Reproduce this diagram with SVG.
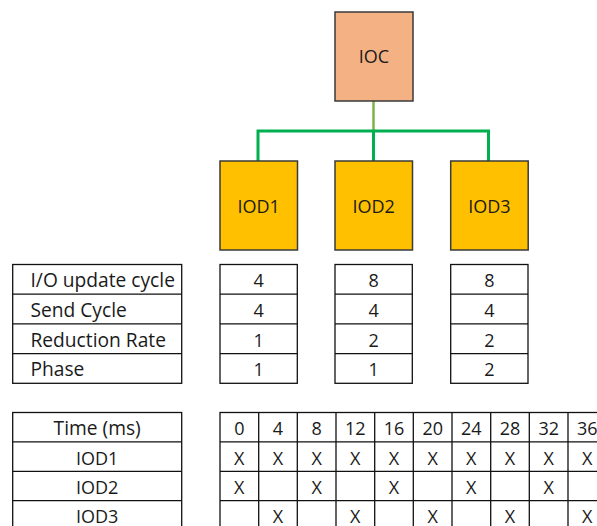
<svg xmlns="http://www.w3.org/2000/svg" width="597" height="526" viewBox="0 0 597 526">
  <style>
    .box { stroke: #3a3a3a; stroke-width: 1.5; }
    .ioc { fill: #F4B183; }
    .iod { fill: #FFC000; }
    .lbl { font-family: "Open Sans", "Noto Sans", "Liberation Sans", sans-serif; font-size: 18px; fill: #1a1a1a; }
    .wide { font-size: 19.2px; }
    .c { text-anchor: middle; }
    .cell { fill: #ffffff; stroke: #111111; stroke-width: 1.3; }
    .grid { stroke: #111111; stroke-width: 1.3; fill: none; }
    .bus { stroke: #00B050; stroke-width: 3; fill: none; }
    .up { stroke: #7DB24A; stroke-width: 2.5; fill: none; }
  </style>

  <rect width="597" height="526" fill="#ffffff"/>

  <!-- connectors: controller down to the bus, bus to each device -->
  <g id="connectors">
    <line class="up" x1="373.5" y1="101" x2="373.5" y2="131"/>
    <polyline class="bus" points="258,161 258,131 488.5,131 488.5,161"/>
    <line class="bus" x1="373.5" y1="131" x2="373.5" y2="161"/>
  </g>

  <g id="ioc">
    <rect class="box ioc" x="335" y="12" width="78" height="89"/>
    <text class="lbl c" x="374" y="63">IOC</text>
  </g>
  <g id="iod1">
    <rect class="box iod" x="220" y="161" width="77.5" height="89"/>
    <text class="lbl c" x="258.7" y="212.5">IOD1</text>
  </g>
  <g id="iod2">
    <rect class="box iod" x="335" y="161" width="77.5" height="89"/>
    <text class="lbl c" x="373.7" y="212.5">IOD2</text>
  </g>
  <g id="iod3">
    <rect class="box iod" x="450.7" y="161" width="77.5" height="89"/>
    <text class="lbl c" x="489.4" y="212.5">IOD3</text>
  </g>

  <!-- parameter table -->
  <g id="param-labels">
    <rect class="cell" x="12.7" y="264.5" width="169" height="118.8"/>
    <path class="grid" d="M12.7 294.2H181.7M12.7 323.9H181.7M12.7 353.6H181.7"/>
    <text class="lbl wide" x="30.5" y="287.3">I/O update cycle</text>
    <text class="lbl wide" x="30.5" y="317">Send Cycle</text>
    <text class="lbl wide" x="30.5" y="346.7">Reduction Rate</text>
    <text class="lbl wide" x="30.5" y="376.4">Phase</text>
  </g>
  <g id="param-iod1">
    <rect class="cell" x="220" y="264.5" width="77.3" height="118.8"/>
    <path class="grid" d="M220 294.2H297.3M220 323.9H297.3M220 353.6H297.3"/>
    <text class="lbl c" x="258.7" y="287.3">4</text>
    <text class="lbl c" x="258.7" y="317">4</text>
    <text class="lbl c" x="258.7" y="346.7">1</text>
    <text class="lbl c" x="258.7" y="376.4">1</text>
  </g>
  <g id="param-iod2">
    <rect class="cell" x="335" y="264.5" width="77.3" height="118.8"/>
    <path class="grid" d="M335 294.2H412.3M335 323.9H412.3M335 353.6H412.3"/>
    <text class="lbl c" x="373.7" y="287.3">8</text>
    <text class="lbl c" x="373.7" y="317">4</text>
    <text class="lbl c" x="373.7" y="346.7">2</text>
    <text class="lbl c" x="373.7" y="376.4">1</text>
  </g>
  <g id="param-iod3">
    <rect class="cell" x="450.7" y="264.5" width="77.3" height="118.8"/>
    <path class="grid" d="M450.7 294.2H528M450.7 323.9H528M450.7 353.6H528"/>
    <text class="lbl c" x="489.3" y="287.3">8</text>
    <text class="lbl c" x="489.3" y="317">4</text>
    <text class="lbl c" x="489.3" y="346.7">2</text>
    <text class="lbl c" x="489.3" y="376.4">2</text>
  </g>

  <!-- timing table -->
  <g id="time-labels">
    <rect class="cell" x="12.7" y="412.5" width="169" height="125"/>
    <path class="grid" d="M12.7 441.9H181.7M12.7 471.3H181.7M12.7 500.7H181.7"/>
    <text class="lbl wide c" x="97.2" y="434.5">Time (ms)</text>
    <text class="lbl c" x="97.2" y="464.5">IOD1</text>
    <text class="lbl c" x="97.2" y="493.9">IOD2</text>
    <text class="lbl c" x="97.2" y="523">IOD3</text>
  </g>
  <g id="time-grid">
    <rect class="cell" x="220" y="412.5" width="386.7" height="125"/>
    <path class="grid" d="M220 441.9H606.7M220 471.3H606.7M220 500.7H606.7
      M258.7 412.5V537.5M297.3 412.5V537.5M336 412.5V537.5M374.7 412.5V537.5M413.3 412.5V537.5
      M452 412.5V537.5M490.7 412.5V537.5M529.3 412.5V537.5M568 412.5V537.5"/>
    <g class="lbl c">
      <text x="239.3" y="434.5">0</text>
      <text x="278" y="434.5">4</text>
      <text x="316.7" y="434.5">8</text>
      <text x="355.3" y="434.5">12</text>
      <text x="394" y="434.5">16</text>
      <text x="432.7" y="434.5">20</text>
      <text x="471.3" y="434.5">24</text>
      <text x="510" y="434.5">28</text>
      <text x="548.7" y="434.5">32</text>
      <text x="587.3" y="434.5">36</text>

      <text x="239.3" y="464.5">X</text>
      <text x="278" y="464.5">X</text>
      <text x="316.7" y="464.5">X</text>
      <text x="355.3" y="464.5">X</text>
      <text x="394" y="464.5">X</text>
      <text x="432.7" y="464.5">X</text>
      <text x="471.3" y="464.5">X</text>
      <text x="510" y="464.5">X</text>
      <text x="548.7" y="464.5">X</text>
      <text x="587.3" y="464.5">X</text>

      <text x="239.3" y="493.9">X</text>
      <text x="316.7" y="493.9">X</text>
      <text x="394" y="493.9">X</text>
      <text x="471.3" y="493.9">X</text>
      <text x="548.7" y="493.9">X</text>

      <text x="278" y="523">X</text>
      <text x="355.3" y="523">X</text>
      <text x="432.7" y="523">X</text>
      <text x="510" y="523">X</text>
      <text x="587.3" y="523">X</text>
    </g>
  </g>
</svg>
